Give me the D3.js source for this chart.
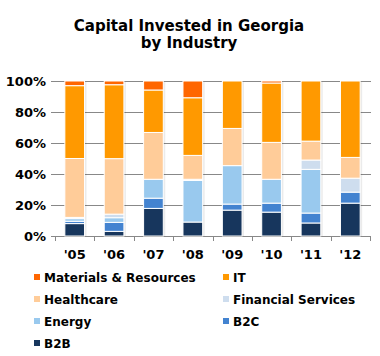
<!DOCTYPE html>
<html><head><meta charset="utf-8">
<script src="https://cdn.jsdelivr.net/npm/d3@7"></script>
<style>body{margin:0;background:#fff}svg{display:block}</style>
</head><body><svg id="c" width="380" height="356"></svg>
<script>
const years = ["'05","'06","'07","'08","'09","'10","'11","'12"];
const seriesNames = ["B2B","B2C","Energy","Financial Services","Healthcare","IT","Materials & Resources"];
const colors = ["#17365D","#4383D0","#99C9EE","#CEDDEE","#FFCC99","#FF9900","#FF6600"];
const B2B = [8, 3, 17.8, 9, 16.7, 15.4, 8.4, 21.2];
const B2C = [1.5, 5.8, 6.6, 0, 3.9, 5.8, 6.4, 7.1];
const Energy = [1.7, 3, 12.2, 26.8, 24.8, 15.4, 28.2, 0];
const Financial = [0.8, 2.3, 0, 0.8, 0, 0, 6, 9];
const Healthcare = [38, 35.8, 30.2, 15.4, 24, 23.8, 12.2, 13.4];
const IT = [47, 47.7, 27.4, 37.2, 30.6, 38.3, 38.8, 49.3];
const Materials = [3, 2.4, 5.8, 10.8, 0, 1.3, 0, 0];
const yTicks = [0, 20, 40, 60, 80, 100];
const legendOrder = ["Materials & Resources","IT","Healthcare","Financial Services","Energy","B2C","B2B"];

const values = [B2B, B2C, Energy, Financial, Healthcare, IT, Materials];
const table = years.map((y, i) => {
  const o = {year: y};
  seriesNames.forEach((s, k) => o[s] = values[k][i]);
  return o;
});
const stack = d3.stack().keys(seriesNames)(table);

const svg = d3.select("#c");
const font = "'DejaVu Sans', Verdana, sans-serif";
const x = d3.scaleBand().domain(years).range([55, 370]).paddingInner(0.5).paddingOuter(0.25);
const y = d3.scaleLinear().domain([0, 100]).range([236, 81]);

svg.append("text").attr("x", 189).attr("y", 31).attr("text-anchor", "middle")
  .attr("font-family", font).attr("font-weight", "bold").attr("font-size", 15).text("Capital Invested in Georgia");
svg.append("text").attr("x", 189).attr("y", 48).attr("text-anchor", "middle")
  .attr("font-family", font).attr("font-weight", "bold").attr("font-size", 15).text("by Industry");

// grid
svg.append("g").selectAll("line").data(yTicks).join("line")
  .attr("x1", 51).attr("x2", 371).attr("y1", d => Math.round(y(d)) + 0.5).attr("y2", d => Math.round(y(d)) + 0.5)
  .attr("stroke", "#888").attr("stroke-width", 1);
svg.append("g").selectAll("text").data(yTicks).join("text")
  .attr("x", 46).attr("y", d => y(d) + 5).attr("text-anchor", "end")
  .attr("font-family", font).attr("font-weight", "bold").attr("font-size", 13).text(d => d + "%");

// x ticks at band boundaries
const bounds = d3.range(years.length + 1).map(i => 55 + i * (315 / years.length));
svg.append("g").selectAll("line").data(bounds).join("line")
  .attr("x1", d => Math.round(d) + 0.5).attr("x2", d => Math.round(d) + 0.5).attr("y1", 236).attr("y2", 241)
  .attr("stroke", "#888");
svg.append("g").selectAll("text").data(years).join("text")
  .attr("x", d => x(d) + x.bandwidth() / 2).attr("y", 259).attr("text-anchor", "middle")
  .attr("font-family", font).attr("font-weight", "bold").attr("font-size", 13).text(d => d);

// shadows
svg.append("g").selectAll("rect").data(table).join("rect")
  .attr("x", d => x(d.year) + 2).attr("y", y(100) + 1).attr("width", x.bandwidth()).attr("height", y(0) - y(100) - 1)
  .attr("fill", "#000").attr("opacity", 0.08);

svg.append("g").selectAll("g").data(stack).join("g").attr("fill", (d, i) => colors[i])
  .selectAll("rect").data(d => d.filter(p => p[1] - p[0] > 0)).join("rect")
  .attr("x", d => x(d.data.year)).attr("y", d => y(d[1]))
  .attr("width", x.bandwidth()).attr("height", d => y(d[0]) - y(d[1]))
  .attr("stroke", "#fff").attr("stroke-width", 1);

// legend
const lg = svg.append("g");
legendOrder.forEach((name, i) => {
  const col = i % 2, row = Math.floor(i / 2);
  const lx = col === 0 ? 34 : 223, ly = 277 + row * 22;
  lg.append("rect").attr("x", lx).attr("y", ly - 3).attr("width", 6).attr("height", 6)
    .attr("fill", colors[seriesNames.indexOf(name)]);
  lg.append("text").attr("x", lx + 10).attr("y", ly + 5).attr("font-family", font).attr("font-weight", "bold")
    .attr("font-size", 12).text(name);
});
</script></body></html>
